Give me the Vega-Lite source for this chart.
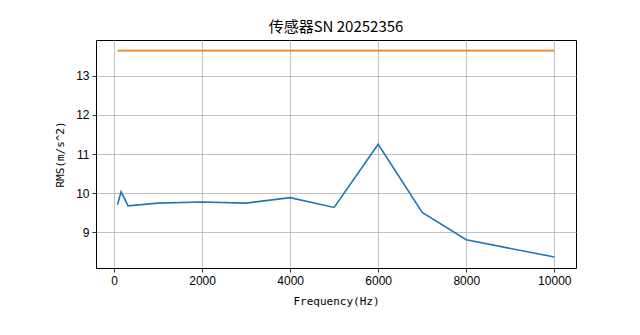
{
  "$schema": "https://vega.github.io/schema/vega-lite/v6.json",
  "autosize": "none",
  "width": 480,
  "height": 228,
  "padding": {"left": 96, "top": 40, "right": 64, "bottom": 67},
  "background": "white",
  "title": {
    "text": "传感器SN 20252356",
    "font": "Noto Sans CJK SC",
    "fontSize": 15,
    "fontWeight": "normal",
    "color": "black",
    "offset": 5
  },
  "data": {
    "values": [
      {"freq": 80, "rms": 9.70, "series": "RMS"},
      {"freq": 160, "rms": 10.03, "series": "RMS"},
      {"freq": 320, "rms": 9.67, "series": "RMS"},
      {"freq": 1000, "rms": 9.74, "series": "RMS"},
      {"freq": 2000, "rms": 9.77, "series": "RMS"},
      {"freq": 3000, "rms": 9.74, "series": "RMS"},
      {"freq": 4000, "rms": 9.88, "series": "RMS"},
      {"freq": 5000, "rms": 9.63, "series": "RMS"},
      {"freq": 6000, "rms": 11.25, "series": "RMS"},
      {"freq": 7000, "rms": 9.50, "series": "RMS"},
      {"freq": 8000, "rms": 8.80, "series": "RMS"},
      {"freq": 10000, "rms": 8.36, "series": "RMS"},
      {"freq": 80, "rms": 13.65, "series": "Limit"},
      {"freq": 10000, "rms": 13.65, "series": "Limit"}
    ]
  },
  "mark": {"type": "line", "strokeWidth": 1.6, "clip": true},
  "encoding": {
    "x": {
      "field": "freq",
      "type": "quantitative",
      "title": "Frequency(Hz)",
      "scale": {"domain": [-409, 10493], "nice": false, "zero": false},
      "axis": {"values": [0, 2000, 4000, 6000, 8000, 10000], "format": "d", "titlePadding": 9}
    },
    "y": {
      "field": "rms",
      "type": "quantitative",
      "title": "RMS(m/s^2)",
      "scale": {"domain": [8.077, 13.923], "nice": false, "zero": false},
      "axis": {"values": [9, 10, 11, 12, 13], "format": "d", "titlePadding": 10}
    },
    "color": {
      "field": "series",
      "type": "nominal",
      "scale": {"domain": ["RMS", "Limit"], "range": ["#1f77b4", "#ff7f0e"]},
      "legend": null
    },
    "detail": {"field": "series"}
  },
  "config": {
    "view": {"stroke": "black", "strokeWidth": 1},
    "axis": {
      "domain": false,
      "grid": true,
      "gridColor": "#b0b0b0",
      "gridWidth": 0.8,
      "gridOpacity": 1,
      "ticks": true,
      "tickColor": "black",
      "tickSize": 4,
      "tickWidth": 0.8,
      "labelFont": "Liberation Sans",
      "labelFontSize": 12,
      "labelColor": "black",
      "labelPadding": 3,
      "titleFont": "DejaVu Sans Mono",
      "titleFontSize": 11,
      "titleFontWeight": "normal",
      "titleColor": "black"
    }
  }
}
